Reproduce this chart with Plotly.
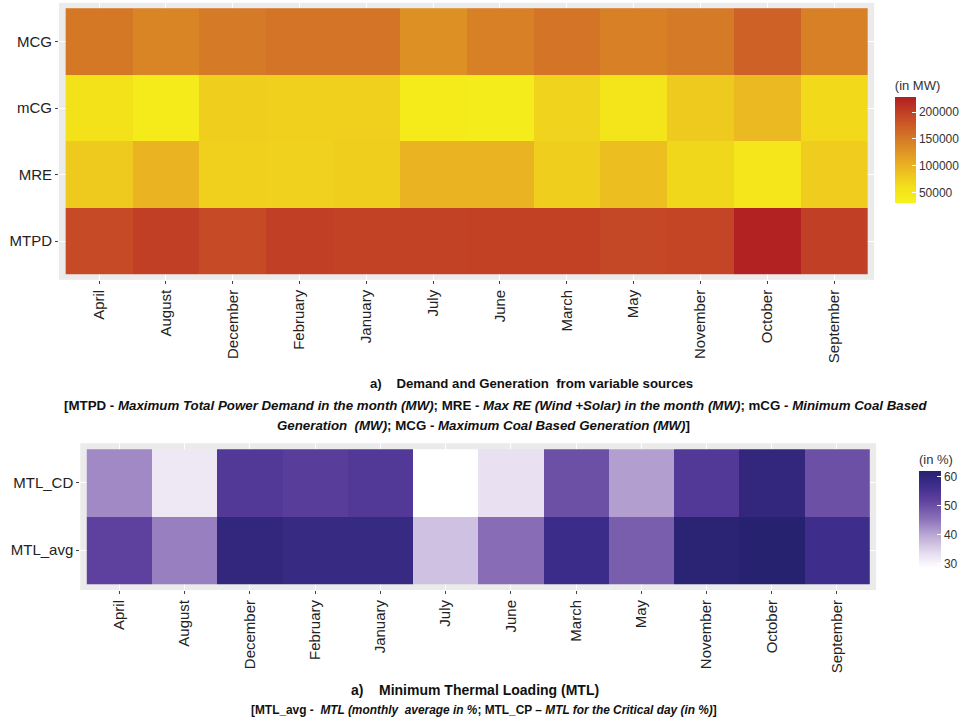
import plotly.graph_objects as go

months = ["April", "August", "December", "February", "January", "July",
          "June", "March", "May", "November", "October", "September"]

# Top heatmap (MW)
top_rows = ["MTPD", "MRE", "mCG", "MCG"]
MTPD = [190000, 200000, 190000, 200000, 197000, 197000, 198000, 198000, 192000, 195000, 225000, 200000]
MRE = [80000, 100000, 75000, 74000, 76000, 100000, 100000, 76000, 90000, 68000, 50000, 78000]
mCG = [58000, 42000, 76000, 75000, 75000, 42000, 40000, 72000, 52000, 80000, 95000, 66000]
MCG = [152000, 140000, 150000, 155000, 155000, 130000, 145000, 155000, 145000, 150000, 170000, 145000]

# Bottom heatmap (%)
bot_rows = ["MTL_avg", "MTL_CD"]
MTL_avg = [52, 44, 59.5, 58.5, 58.5, 37, 46, 57.5, 48, 61, 62, 57]
MTL_CD = [43, 32, 54, 53, 54, 28.6, 33, 50, 41, 54, 59.5, 50]

top_scale = [[0, "#f6f21c"], [0.15, "#f3e01a"], [0.35, "#eab322"],
             [0.6, "#d57b26"], [0.8, "#c74c26"], [1, "#b11e22"]]
bot_scale = [[0, "#ffffff"], [0.15, "#e6ddef"], [0.35, "#b8a5d3"],
             [0.5, "#8d72b9"], [0.7, "#5e419e"], [0.85, "#3f2d8c"], [1, "#26226f"]]

fig = go.Figure()
fig.add_trace(go.Heatmap(
    x=months, y=top_rows, z=[MTPD, MRE, mCG, MCG],
    colorscale=top_scale, zmin=31000, zmax=228000,
    xaxis="x", yaxis="y",
    colorbar=dict(
        title=dict(text="(in MW)", side="top", font=dict(size=13, color="#333")),
        x=0.915, xanchor="left", y=1 - 213 / 723, yanchor="bottom",
        len=146, lenmode="pixels", thickness=21, outlinewidth=0,
        tickvals=[50000, 100000, 150000, 200000], tickformat="d", ticks="inside",
        tickcolor="white", ticklen=4, tickfont=dict(size=12, color="#333"),
    ),
))
fig.add_trace(go.Heatmap(
    x=months, y=bot_rows, z=[MTL_avg, MTL_CD],
    colorscale=bot_scale, zmin=28.6, zmax=62,
    xaxis="x2", yaxis="y2",
    colorbar=dict(
        title=dict(text="(in %)", side="top", font=dict(size=13, color="#333")),
        x=0.940, xanchor="left", y=1 - 578 / 723, yanchor="bottom",
        len=137, lenmode="pixels", thickness=22, outlinewidth=0,
        tickvals=[30, 40, 50, 60], ticks="inside",
        tickcolor="white", ticklen=4, tickfont=dict(size=12, color="#333"),
    ),
))

axfont = dict(family="Liberation Sans, Arial", size=15, color="#222")
common_x = dict(type="category", tickangle=-90, ticks="outside", ticklen=3,
                tickcolor="#444", tickfont=axfont, showgrid=True,
                gridcolor="white", zeroline=False, showline=False,
                range=[-0.6, 11.6], automargin=False)
common_y = dict(type="category", ticks="outside", ticklen=3, tickcolor="#444",
                tickfont=axfont, showgrid=True, gridcolor="white",
                automargin=False)
fig.update_layout(
    width=967, height=723,
    margin=dict(l=0, r=0, t=0, b=0, autoexpand=False),
    paper_bgcolor="white", plot_bgcolor="#ebebeb",
    font=dict(family="Liberation Sans, Arial"),
    xaxis=dict(domain=[0.061, 0.904], anchor="y", **common_x),
    yaxis=dict(domain=[0.613, 0.996], range=[-0.58, 3.58], anchor="x", **common_y),
    xaxis2=dict(domain=[0.083, 0.906], anchor="y2", **common_x),
    yaxis2=dict(domain=[0.184, 0.387], range=[-0.59, 1.59], anchor="x2", **common_y),
)

capfont = "Liberation Sans, Arial"
caps = [
    (0.550, 383, "<b>a)    Demand and Generation  from variable sources</b>", 13.2),
    (0.512, 405, "<b>[MTPD - <i>Maximum Total Power Demand in the month (MW)</i>; MRE - <i>Max RE (Wind +Solar) in the month (MW)</i>; mCG - <i>Minimum Coal Based</i></b>", 13.3),
    (0.5, 425, "<b><i>Generation  (MW)</i>; MCG - <i>Maximum Coal Based Generation (MW)</i>]</b>", 13.3),
    (0.491, 690, "<b>a)    Minimum Thermal Loading (MTL)</b>", 14),
    (0.5, 710, "<b>[MTL_avg -  <i>MTL (monthly  average in %</i>; MTL_CP – <i>MTL for the Critical day (in %)</i>]</b>", 11.9),
]
for cx, cy, txt, sz in caps:
    fig.add_annotation(xref="paper", yref="paper", x=cx, y=1 - cy / 723,
                       xanchor="center", yanchor="middle", text=txt,
                       showarrow=False,
                       font=dict(family=capfont, size=sz, color="#111"))

fig.write_html("out.html", config={"displayModeBar": False},
               post_script="document.body.style.margin='0';document.body.style.overflow='hidden';")
